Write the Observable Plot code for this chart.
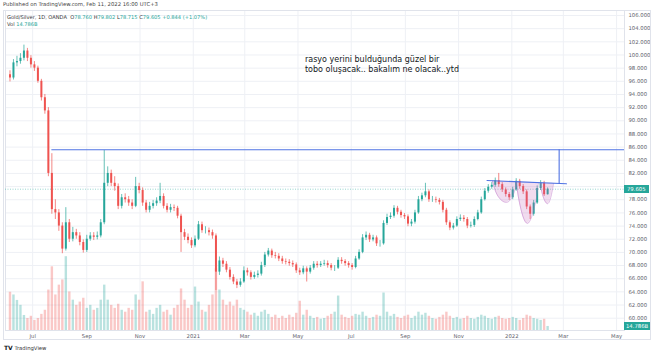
<!DOCTYPE html>
<html><head><meta charset="utf-8">
<script src="https://cdn.jsdelivr.net/npm/d3@7"></script>
<script src="https://cdn.jsdelivr.net/npm/@observablehq/plot@0.6"></script>
<style>
body{margin:0;background:#fff;font-family:"DejaVu Sans",sans-serif;}
#wrap{position:relative;width:654px;height:354px;overflow:hidden;}
.tv{position:absolute;white-space:nowrap;}
</style></head>
<body><div id="wrap"></div>
<script>
// ---- data ----
const firstDate = "2020-06-05"; // first candle, one candle per 4 days
const stepDays = 4;
const firstOpen = 97.0;
const close = [
96.5,98.8,99.0,99.5,100.6,99.5,98.5,98.0,96.0,93.5,
91.5,82.0,76.5,76.0,74.0,70.5,74.5,72.0,73.0,72.5,
71.5,70.3,72.0,72.5,72.3,72.5,74.5,80.5,82.0,80.5,
80.0,77.0,78.3,78.0,77.5,77.0,80.0,79.4,77.5,76.4,
77.0,77.4,77.8,78.5,77.0,76.4,76.8,76.7,75.5,73.0,
72.3,71.8,71.0,72.0,74.2,73.3,73.3,73.0,72.5,67.0,
68.7,68.2,67.3,66.2,65.5,65.0,65.5,67.2,66.9,66.2,
66.5,66.7,68.0,69.6,70.2,69.5,69.4,69.0,68.6,68.5,
68.3,68.1,67.2,66.9,67.5,67.0,67.6,68.2,68.0,68.2,
68.3,68.0,67.6,67.6,68.8,68.6,68.3,68.0,67.7,69.0,
70.0,72.2,72.6,71.9,72.2,71.3,71.3,74.4,75.3,75.5,
76.7,76.1,75.6,75.4,74.3,74.6,76.0,78.0,78.6,79.2,
78.0,78.0,77.9,77.6,76.4,74.5,73.7,74.0,75.0,75.2,
75.0,74.0,74.1,75.0,76.0,78.0,79.3,79.9,80.2,80.9,
80.3,79.5,78.8,78.3,79.5,80.8,80.0,79.2,76.9,75.8,
77.5,79.7,80.5,78.76,79.605];
const high = [
97.6,99.3,99.8,100.2,101.5,101.0,99.9,99.0,98.3,96.3,
94.0,92.0,85.0,78.0,76.5,74.5,76.8,75.0,73.8,73.5,
73.0,71.9,72.6,73.0,73.0,73.1,75.0,85.5,83.0,82.5,
81.5,80.4,78.8,78.9,78.5,78.0,81.4,80.5,79.8,77.9,
77.6,77.9,78.3,80.5,78.9,77.4,77.3,77.2,77.0,75.8,
73.5,72.8,72.2,72.5,74.7,74.6,73.9,73.7,73.4,72.8,
69.3,69.1,68.6,67.7,66.6,65.9,66.0,67.8,67.6,67.2,
67.0,67.2,68.5,70.0,70.6,70.5,70.0,69.8,69.4,69.0,
68.9,68.7,68.4,67.6,67.9,67.8,68.0,68.6,68.6,68.6,
68.8,68.7,68.3,68.0,69.2,69.2,68.9,68.6,68.3,69.4,
70.4,72.7,73.1,72.9,72.6,72.5,71.8,74.8,75.8,76.0,
77.1,77.0,76.4,75.9,75.7,75.0,76.4,78.5,79.0,80.5,
79.5,78.5,78.4,78.2,77.9,76.7,74.8,74.4,75.4,75.7,
75.6,75.3,74.6,75.4,76.4,78.4,79.7,80.3,80.6,81.3,
82.0,80.6,79.8,79.1,79.9,81.2,81.1,80.3,79.5,77.2,
77.9,80.1,80.9,80.8,79.802];
const low = [
95.9,96.2,98.2,98.6,99.1,99.0,98.0,97.5,95.7,93.0,
91.0,81.5,75.8,75.0,73.2,69.8,70.2,71.5,71.6,72.0,
71.0,69.9,70.0,71.7,71.8,71.9,72.2,74.2,80.0,80.0,
79.3,76.5,76.6,77.5,77.0,76.5,76.8,78.9,77.0,76.0,
76.0,76.6,77.0,77.4,76.6,76.0,76.0,76.2,75.1,70.0,
71.8,71.3,70.6,70.7,71.8,72.9,72.8,72.5,72.0,64.2,
66.5,67.7,66.9,65.8,65.1,64.5,64.7,65.3,66.4,65.8,
65.9,66.1,66.4,67.7,69.3,69.1,69.0,68.6,68.2,68.1,
67.9,67.7,66.8,66.5,66.6,65.5,66.7,67.3,67.6,67.7,
67.9,67.6,67.2,67.1,67.4,68.2,67.9,67.6,67.3,67.5,
68.8,69.8,71.8,71.5,71.6,70.9,70.8,71.1,74.1,75.0,
75.2,75.7,75.2,75.0,73.9,73.9,74.3,75.8,77.7,78.3,
77.6,77.6,77.5,77.2,76.0,74.1,73.3,73.4,73.8,74.7,
74.6,73.6,73.7,73.8,74.8,75.8,77.8,79.0,79.6,79.9,
79.9,79.1,78.4,77.9,78.0,79.3,79.6,78.8,76.5,75.0,
75.5,77.3,79.4,78.5,78.715];
const volume = [ // billions
140,130,110,92,55,44,52,37,44,59,
74,148,233,130,166,185,270,141,111,92,
104,118,81,92,74,81,111,166,111,92,
81,96,74,67,81,74,130,111,178,67,
74,59,81,92,67,74,56,81,92,152,
111,81,92,159,104,74,67,92,130,226,
148,111,92,104,89,111,81,74,67,56,
63,52,67,74,59,48,56,44,52,44,
56,48,63,107,56,74,52,44,48,41,
44,52,59,67,126,56,48,44,52,59,
56,67,52,44,48,56,52,137,67,52,
59,48,44,52,56,44,52,67,56,63,
52,44,41,48,56,67,52,44,48,41,
44,52,44,41,48,56,52,44,41,48,
52,44,41,44,48,44,37,44,56,52,
44,41,37,41,14.786];

const xTickDates = ["2020-07-01","2020-09-01","2020-11-01","2021-01-01","2021-03-01","2021-05-01","2021-07-01","2021-09-01","2021-11-01","2022-01-01","2022-03-01","2022-05-01"];
const xTickLabels = ["Jul","Sep","Nov","2021","Mar","May","Jul","Sep","Nov","2022","Mar","May"];
const yGrid = [60,62,64,66,68,70,72,74,76,78,80,82,84,86,88,90,92,94,96,98,100,102,104,106];
const yTickLabels = [60,62,64,66,68,70,72,74,76,78,82,84,86,88,90,92,94,96,98,100,102,104,106]; // 80 hidden under price tag
const xDomain = ["2020-05-30T21:00Z","2022-05-10T02:00Z"];
const yDomain = [58.13,106.76];
const volDomain = [0,300];

// drawings
const resistanceLevel = 85.6;
const resistanceStart = "2020-07-23";
const necklineDates = ["2021-12-03T14:00Z","2022-03-04T14:00Z"];
const necklineValues = [80.92,80.42];
const targetDate = "2022-02-24T05:00Z";
const targetValues = [85.6,80.45];
const arc1Dates = ["2021-12-09T17:00Z","2021-12-15T10:00Z","2021-12-25T17:00Z","2022-01-02T19:00Z","2022-01-06T05:00Z"];
const arc1Top = [80.88,80.85,80.8,80.75,80.73];
const arc1Bottom = [80.88,78.7,77.6,78.8,80.73];
const arc2Dates = ["2022-01-06T05:00Z","2022-01-09T17:00Z","2022-01-18T19:00Z","2022-01-28T00:00Z","2022-01-31T10:00Z"];
const arc2Top = [80.73,80.71,80.66,80.6,80.58];
const arc2Bottom = [80.73,77.6,74.4,77.6,80.58];
const arc3Dates = ["2022-02-02T19:00Z","2022-02-05T02:00Z","2022-02-10T19:00Z","2022-02-15T10:00Z","2022-02-17T17:00Z"];
const arc3Top = [80.57,80.55,80.52,80.49,80.48];
const arc3Bottom = [80.57,78.8,77.4,78.8,80.48];
const noteText = "rasyo yerini bulduğunda güzel bir\ntobo oluşacak.. bakalım ne olacak..ytd";
const noteDate = "2021-05-09";
const noteValue = 99.95;
const lastPrice = 79.605;
const lastVolume = 14.786;

// ---- build ----
const UP = "#26a69a", DOWN = "#ef5350";
const start = new Date(firstDate + "T00:00Z");
const candles = close.map((c, i) => {
  const o = i === 0 ? firstOpen : close[i - 1];
  return {date: d3.utcDay.offset(start, stepDays * i), open: o, close: c, high: high[i], low: low[i], vol: volume[i], up: c >= o};
});
const tickDates = xTickDates.map(d => new Date(d + "T00:00Z"));
const labelOf = new Map(tickDates.map((d, i) => [+d, xTickLabels[i]]));
const xOpt = {type: "utc", domain: xDomain.map(d => new Date(d))};
const common = {width: 654, height: 354, marginLeft: 5, marginRight: 30, marginTop: 10, marginBottom: 24,
  style: {background: "transparent", overflow: "visible", fontFamily: "'DejaVu Sans', sans-serif"}};

const basePlot = Plot.plot({...common, x: xOpt, y: {domain: yDomain},
  marks: [
    Plot.gridY(yGrid, {stroke: "#eef0f5", strokeOpacity: 1}),
    Plot.gridX(tickDates, {stroke: "#eef0f5", strokeOpacity: 1}),
    Plot.frame({stroke: "#e0e3eb"}),
    Plot.axisY(yTickLabels, {anchor: "right", tickSize: 0, tickPadding: 4, fontSize: 5.3, fill: "#5d606b", tickFormat: d => d.toFixed(3), label: null}),
    Plot.axisX(tickDates, {anchor: "bottom", tickSize: 0, tickPadding: 4, fontSize: 5.3, fill: "#5d606b", tickFormat: d => labelOf.get(+d), label: null})
  ]});

const volPlot = Plot.plot({...common, marginTop: 248, x: {...xOpt, axis: null}, y: {domain: volDomain, axis: null},
  marks: [
    Plot.ruleX(candles, {x: "date", y1: 0, y2: "vol", stroke: d => d.up ? UP : DOWN, strokeOpacity: 0.32, strokeWidth: 2.4})
  ]});

const arcMarks = [[arc1Dates, arc1Top, arc1Bottom], [arc2Dates, arc2Top, arc2Bottom], [arc3Dates, arc3Top, arc3Bottom]]
  .flatMap(([ds, t, b]) => {
    const pts = ds.map((d, i) => ({x: new Date(d), t: t[i], b: b[i]}));
    return [
      Plot.areaY(pts, {x: "x", y1: "t", y2: "b", curve: "natural", fill: "#c060b8", fillOpacity: 0.22}),
      Plot.line(pts, {x: "x", y: "b", curve: "natural", stroke: "#b566c0", strokeOpacity: 0.55, strokeWidth: 0.8})
    ];
  });

const pricePlot = Plot.plot({...common, x: {...xOpt, axis: null}, y: {domain: yDomain, axis: null},
  marks: [
    Plot.ruleY([lastPrice], {stroke: UP, strokeDasharray: "1,1.5", strokeOpacity: 0.6, strokeWidth: 0.8}),
    Plot.ruleX(candles, {x: "date", y1: "low", y2: "high", stroke: d => d.up ? UP : DOWN, strokeWidth: 0.7}),
    Plot.ruleX(candles, {x: "date", y1: "open", y2: "close", stroke: d => d.up ? UP : DOWN, strokeWidth: 2.0}),
    ...arcMarks,
    Plot.ruleY([resistanceLevel], {x1: new Date(resistanceStart + "T00:00Z"), x2: new Date(xDomain[1]), stroke: "#4f73e3", strokeWidth: 1.1}),
    Plot.line(necklineDates.map((d, i) => ({x: new Date(d), y: necklineValues[i]})), {x: "x", y: "y", stroke: "#4f73e3", strokeWidth: 1.1}),
    Plot.ruleX([new Date(targetDate)], {y1: targetValues[0], y2: targetValues[1], stroke: "#4f73e3", strokeWidth: 1.1}),
    Plot.text([noteText], {x: new Date(noteDate + "T00:00Z"), y: noteValue, text: d => d, textAnchor: "start", lineAnchor: "top", lineHeight: 1.25, fontSize: 8, fill: "#131722", fontFamily: "'DejaVu Sans', sans-serif"})
  ]});

const wrap = document.getElementById("wrap");
for (const p of [basePlot, volPlot, pricePlot]) { p.style.position = "absolute"; p.style.left = "0"; p.style.top = "0"; wrap.appendChild(p); }

// outer frame
const frame = document.createElement("div");
Object.assign(frame.style, {position: "absolute", left: "3px", top: "10px", width: "648px", height: "330px", border: "1px solid #e0e3eb", boxSizing: "border-box", pointerEvents: "none"});
wrap.appendChild(frame);

function addText(html, left, topPx, css) {
  const el = document.createElement("div");
  el.className = "tv"; el.innerHTML = html;
  Object.assign(el.style, {left: left + "px", top: topPx + "px"}, css || {});
  wrap.appendChild(el); return el;
}
addText("Published on TradingView.com, Feb 11, 2022 16:00 UTC+3", 3, 1, {fontSize: "5.3px", color: "#444"});
const g = "color:" + UP;
addText(`<span style="color:#333">Gold/Silver, 1D, OANDA</span>&nbsp; <span style="color:#333">O</span><span style="${g}">78.760</span> <span style="color:#333">H</span><span style="${g}">79.802</span> <span style="color:#333">L</span><span style="${g}">78.715</span> <span style="color:#333">C</span><span style="${g}">79.605</span> <span style="${g}">+0.844 (+1.07%)</span>`, 7, 14, {fontSize: "5.1px"});
addText(`<span style="color:#333">Vol</span> <span style="${g}">14.786B</span>`, 7, 21, {fontSize: "5.1px"});

// price & volume labels on the right scale, placed with the plots' own scales
const yP = pricePlot.scale("y").apply(lastPrice);
addText("79.605", 624, yP - 4, {fontSize: "5.3px", color: "#fff", background: UP, padding: "0 3px", lineHeight: "8px", height: "8px"});
const yV = volPlot.scale("y").apply(lastVolume);
addText("14.786B", 624, yV - 4, {fontSize: "5.3px", color: "#fff", background: UP, padding: "0 2px", lineHeight: "8px", height: "8px"});

addText(`<b style="font-size:6px;color:#131722">TV</b> <span style="color:#333">TradingView</span>`, 4, 344, {fontSize: "5.3px"});
</script></body></html>
